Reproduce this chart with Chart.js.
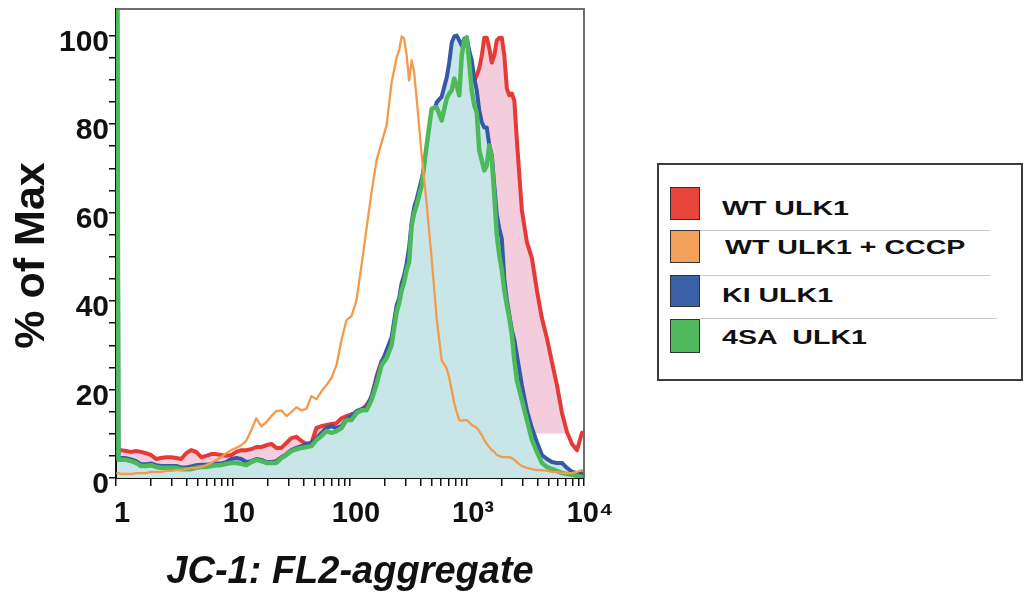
<!DOCTYPE html>
<html>
<head>
<meta charset="utf-8">
<script src="https://cdn.jsdelivr.net/npm/chart.js@4.4.1/dist/chart.umd.min.js"></script>
<style>
  html, body { margin: 0; padding: 0; background: #fff; }
  body { width: 1024px; height: 595px; overflow: hidden; position: relative; font-family: 'Liberation Sans', Arial, sans-serif; }
  #c { position: absolute; left: 0; top: 0; }
  #legend { position: absolute; left: 657px; top: 163px; width: 366px; height: 218px; border: 2px solid #3c3c3c; box-sizing: border-box; background: #fff; }
  .sw { position: absolute; left: 670px; width: 30px; border: 1px solid #333; box-sizing: border-box; }
  .lt { position: absolute; font: bold 21px 'Liberation Sans', Arial, sans-serif; line-height: 24px; transform: scaleX(1.36); transform-origin: 0 50%; white-space: pre; color: #111; }
  .sep { position: absolute; left: 700px; height: 0; border-top: 1px solid #c8c8c8; }
</style>
</head>
<body>
<canvas id="c" width="1024" height="595"></canvas>
<script>
// ---- data ----
const fluorescence = [1.025, 1.05, 1.104, 1.218, 1.345, 1.484, 1.637, 1.807, 1.994, 2.201,
  2.429, 2.681, 2.959, 3.266, 3.604, 3.978, 4.390, 4.845, 5.347, 5.902,
  6.513, 7.188, 7.934, 8.756, 9.660, 10.66, 11.77, 12.99, 14.33, 15.82,
  17.46, 19.27, 21.27, 23.47, 25.90, 28.59, 31.54, 34.82, 38.42, 42.41,
  46.80, 51.65, 57.01, 62.92, 69.43, 76.63, 84.58, 93.33, 103.0, 113.7,
  125.5, 138.5, 152.8, 168.7, 186.1, 205.4, 226.7, 250.2, 262.9, 276.2,
  290.1, 304.8, 320.2, 336.4, 353.4, 371.2, 409.7, 452.2, 499.0, 550.8,
  607.8, 670.9, 704.7, 740.4, 777.7, 817.1, 858.3, 901.8, 947.1, 995.2,
  1045, 1098, 1154, 1212, 1273, 1338, 1405, 1476, 1551, 1629,
  1711, 1798, 1889, 1985, 2085, 2191, 2301, 2418, 2539, 2668,
  2945, 3250, 3587, 3958, 4369, 4822, 5321, 5873, 6482, 7153,
  7895, 8710, 9614, 10000];

const wtULK1 = [5.9, 6.3, 6.3, 6.1, 5.9, 6.1, 5.9, 5.6, 5.2, 4.3,
  4.5, 4.7, 4.7, 4.5, 4.3, 5.6, 6.3, 5.9, 4.7, 5.0,
  5.4, 5.4, 5.2, 5.0, 5.2, 5.9, 6.3, 6.3, 6.5, 7.0,
  7.0, 7.4, 7.7, 6.8, 6.8, 7.9, 9.0, 9.3, 8.4, 7.7,
  7.9, 11.3, 11.7, 12.0, 12.2, 12.4, 13.5, 14.0, 14.4, 14.7,
  15.3, 16.5, 18.1, 23.0, 26.5, 27.0, 30.0, 37.0, 38.5, 42.0,
  43.8, 46.5, 50.0, 55.5, 59.0, 61.0, 65.0, 73.0, 81.0, 82.5,
  84.0, 86.0, 87.0, 88.0, 88.5, 89.0, 89.0, 89.5, 89.5, 89.7,
  89.8, 89.8, 89.8, 91.0, 92.6, 95.5, 99.5, 99.5, 97.1, 93.9,
  95.5, 98.9, 99.5, 99.5, 95.5, 88.0, 86.5, 86.9, 85.3, 76.3,
  60.5, 53.3, 49.7, 42.4, 36.1, 31.6, 26.2, 21.0, 14.7, 10.4,
  7.7, 6.3, 10.2, 10.2];

const wtULK1CCCP = [1.1, 1.1, 0.9, 0.9, 0.9, 1.1, 1.1, 1.1, 1.4, 1.4,
  1.4, 1.6, 1.6, 1.8, 1.8, 2.0, 2.3, 2.3, 2.5, 2.9,
  3.4, 4.1, 4.7, 5.6, 6.3, 6.8, 7.4, 8.4, 10.8, 13.5,
  11.7, 12.6, 14.0, 15.1, 15.3, 14.0, 14.9, 16.0, 15.3, 15.6,
  18.5, 17.8, 19.6, 21.0, 22.6, 25.5, 31.2, 35.7, 36.6, 40.2,
  48.1, 56.4, 64.6, 71.8, 75.8, 79.7, 89.4, 95.0, 96.6, 99.8,
  99.3, 95.5, 89.8, 94.4, 91.7, 85.8, 73.0, 62.0, 49.5, 36.0,
  26.6, 24.8, 22.6, 19.9, 16.9, 14.9, 13.1, 12.9, 13.1, 13.1,
  12.6, 12.0, 11.7, 11.3, 10.6, 9.7, 8.6, 7.7, 7.0, 6.3,
  5.9, 5.2, 5.0, 4.7, 4.7, 4.7, 4.7, 4.5, 4.1, 3.6,
  2.7, 2.3, 2.0, 1.8, 1.8, 1.6, 1.4, 1.4, 1.1, 1.1,
  1.1, 1.4, 1.8, 1.6];

const kiULK1 = [110, 4.5, 4.5, 4.5, 4.2, 3.8, 3.1, 3.1, 3.3, 2.9,
  2.7, 2.7, 2.7, 2.7, 2.4, 2.4, 2.6, 2.9, 3.0, 3.0,
  3.1, 3.3, 3.3, 3.6, 4.3, 4.5, 4.3, 3.6, 3.8, 4.3,
  4.1, 3.6, 3.6, 3.8, 4.7, 5.4, 6.3, 6.8, 7.2, 7.7,
  7.9, 9.0, 10.2, 11.3, 11.7, 11.3, 11.7, 13.3, 14.0, 15.1,
  15.6, 16.0, 18.5, 22.5, 26.0, 28.9, 31.8, 39.0, 40.6, 44.0,
  45.8, 48.5, 52.2, 57.8, 61.2, 63.0, 67.5, 72.9, 81.0, 84.9,
  86.2, 90.5, 93.9, 98.4, 99.8, 100, 98.9, 97.7, 99.3, 99.5,
  96.6, 94.4, 90.3, 87.6, 83.1, 80.4, 79.2, 79.2, 75.2, 72.9,
  66.1, 59.4, 56.4, 54.0, 45.0, 40.2, 36.8, 33.4, 31.2, 27.8,
  21.0, 15.3, 11.3, 8.1, 5.2, 4.3, 3.6, 3.4, 3.4, 2.3,
  1.4, 1.1, 1.1, 1.0];

const sa4ULK1 = [110, 4.1, 4.1, 4.1, 3.8, 3.4, 2.7, 2.7, 2.9, 2.5,
  2.3, 2.3, 2.3, 2.3, 2.0, 2.0, 2.0, 2.3, 2.5, 2.5,
  2.7, 2.9, 2.9, 3.2, 3.4, 3.4, 3.2, 2.9, 3.6, 4.1,
  3.8, 3.4, 3.4, 3.4, 4.5, 5.2, 6.1, 6.5, 6.8, 7.0,
  7.2, 8.6, 9.5, 10.6, 10.2, 10.6, 11.3, 13.1, 13.1, 14.7,
  15.3, 15.3, 17.6, 21.2, 25.5, 27.1, 30.0, 37.5, 39.5, 42.4,
  44.2, 47.0, 48.8, 57.1, 59.8, 61.6, 66.1, 75.2, 83.5, 83.8,
  80.8, 85.8, 86.9, 87.6, 90.3, 88.7, 86.5, 95.5, 98.9, 99.6,
  93.9, 87.6, 84.2, 82.6, 74.0, 71.8, 69.5, 70.7, 75.2, 72.2,
  63.9, 54.9, 50.3, 47.0, 42.4, 39.1, 36.1, 32.3, 26.6, 22.1,
  17.6, 13.1, 8.6, 5.9, 3.4, 2.5, 2.0, 1.6, 1.1, 0.9,
  0.7, 0.5, 0.2, 0.2];

// lower edge of the pink WT ULK1 shading (flat floor at the far right)
const pinkFloorX = [1, 3880, 3900, 10000];
const pinkFloorY = [0, 0, 10, 10];

const seriesNames = ['WT ULK1', 'WT ULK1 + CCCP', 'KI ULK1', '4SA  ULK1'];
const yTickValues = [0, 5, 10, 15, 20, 25, 30, 35, 40, 45, 50, 55, 60, 65, 70, 75, 80, 85, 90, 95, 100];
const yTickLabels = ['0', '', '', '', '20', '', '', '', '40', '', '', '', '60', '', '', '', '80', '', '', '', '100'];
const xTickValues = [1, 2, 3, 4, 5, 6, 7, 8, 9, 10, 20, 30, 40, 50, 60, 70, 80, 90,
  100, 200, 300, 400, 500, 600, 700, 800, 900, 1000, 2000, 3000, 4000, 5000, 6000, 7000, 8000, 9000, 10000];
const xLabelValues = [1, 10, 100, 1000, 10000];
const xLabelText = ['1', '10', '100', '10³', '10⁴'];

// ---- styles ----
const RED = '#e53a35', ORANGE = '#f39a4c', BLUE = '#3559a6', GREEN = '#4cb95b';
const TEAL = 'rgb(200,230,232)', PINK = 'rgb(243,205,219)';
const legendColors = ['#e8443a', '#f2a05a', '#3a60a8', '#4fba5d'];
const FONT = "'Liberation Sans', Arial, Helvetica, sans-serif";

Chart.defaults.font.family = FONT;
Chart.defaults.color = '#111';

const pts = (xs, ys) => xs.map((x, i) => ({ x: x, y: ys[i] }));

const framePlugin = {
  id: 'frame',
  afterDraw(chart) {
    const { ctx, chartArea: a } = chart;
    ctx.save();
    ctx.strokeStyle = '#6e6e6e';
    ctx.lineWidth = 2;
    ctx.beginPath();
    ctx.moveTo(a.left, a.top);
    ctx.lineTo(a.right, a.top);
    ctx.lineTo(a.right, a.bottom);
    ctx.stroke();
    ctx.restore();
  }
};

new Chart(document.getElementById('c'), {
  type: 'line',
  data: {
    datasets: [
      { label: seriesNames[0], data: pts(fluorescence, wtULK1), borderColor: RED, borderWidth: 4,
        fill: { target: 4, above: PINK, below: 'rgba(0,0,0,0)' }, order: 5 },
      { label: seriesNames[1], data: pts(fluorescence, wtULK1CCCP), borderColor: ORANGE, borderWidth: 2.3,
        fill: false, order: 1 },
      { label: seriesNames[2], data: pts(fluorescence, kiULK1), borderColor: BLUE, borderWidth: 4,
        fill: 'origin', backgroundColor: TEAL, order: 4 },
      { label: seriesNames[3], data: pts(fluorescence, sa4ULK1), borderColor: GREEN, borderWidth: 4.5,
        fill: 'origin', backgroundColor: TEAL, order: 3 },
      { label: 'floor', data: pts(pinkFloorX, pinkFloorY), borderColor: 'rgba(0,0,0,0)', borderWidth: 0,
        fill: false, order: 10 }
    ]
  },
  options: {
    responsive: false,
    animation: false,
    devicePixelRatio: 1,
    elements: { point: { radius: 0 }, line: { tension: 0, borderJoinStyle: 'round', borderCapStyle: 'round' } },
    layout: { padding: { left: 0, top: 9, right: 440, bottom: 0 } },
    plugins: { legend: { display: false }, tooltip: { enabled: false } },
    scales: {
      x: {
        type: 'logarithmic', min: 1, max: 10000,
        afterBuildTicks: s => { s.ticks = xTickValues.map(v => ({ value: v })); },
        afterFit: s => { s.height = 117; s.paddingLeft = 0; s.paddingRight = 0; },
        ticks: {
          autoSkip: false, maxRotation: 0, minRotation: 0,
          callback: v => { const k = xLabelValues.indexOf(v); return k >= 0 ? xLabelText[k] : ''; },
          font: { size: 29, weight: 'bold' }, color: '#111', padding: 11, labelOffset: 6
        },
        grid: { drawOnChartArea: false, drawTicks: true, tickLength: 8, color: '#111', lineWidth: 1.5 },
        border: { display: true, color: '#111', width: 2 },
        title: { display: true, text: 'JC-1: FL2-aggregate', color: '#111',
          font: { size: 38, weight: 'bold', style: 'italic' }, padding: { top: 0, bottom: 0 } }
      },
      y: {
        min: 0, max: 106,
        afterBuildTicks: s => { s.ticks = yTickValues.map(v => ({ value: v })); },
        afterFit: s => { s.width = 116; s.paddingTop = 0; s.paddingBottom = 0; },
        ticks: {
          autoSkip: false,
          callback: (v, i) => yTickLabels[i],
          font: { size: 30, weight: 'bold' }, color: '#111', padding: 0, labelOffset: 7
        },
        grid: { drawOnChartArea: false, drawTicks: true, tickLength: 7, color: '#111', lineWidth: 1.5 },
        border: { display: true, color: '#111', width: 2 },
        title: { display: true, text: '% of Max  ', color: '#111',
          font: { size: 43, weight: 'bold' }, padding: { top: 6, bottom: 0 } }
      }
    }
  },
  plugins: [framePlugin]
});

// ---- legend (HTML, real text) ----
const legendRows = [
  { sw: 187, h: 33, text: 208, left: 722 },
  { sw: 230, h: 33, text: 247, left: 725 },
  { sw: 275, h: 32, text: 295, left: 722 },
  { sw: 319, h: 34, text: 337, left: 722 }
];
const sepRows = [{ top: 230, w: 290 }, { top: 275, w: 290 }, { top: 318, w: 297 }];
let html = '<div id="legend"></div>';
sepRows.forEach(s => { html += `<div class="sep" style="top:${s.top}px;width:${s.w}px"></div>`; });
seriesNames.forEach((name, i) => {
  const r = legendRows[i];
  html += `<div class="sw" style="top:${r.sw}px;height:${r.h}px;background:${legendColors[i]}"></div>`;
  html += `<div class="lt" style="top:${r.text - 12}px;left:${r.left}px">${name}</div>`;
});
document.body.insertAdjacentHTML('beforeend', html);
</script>
</body>
</html>
